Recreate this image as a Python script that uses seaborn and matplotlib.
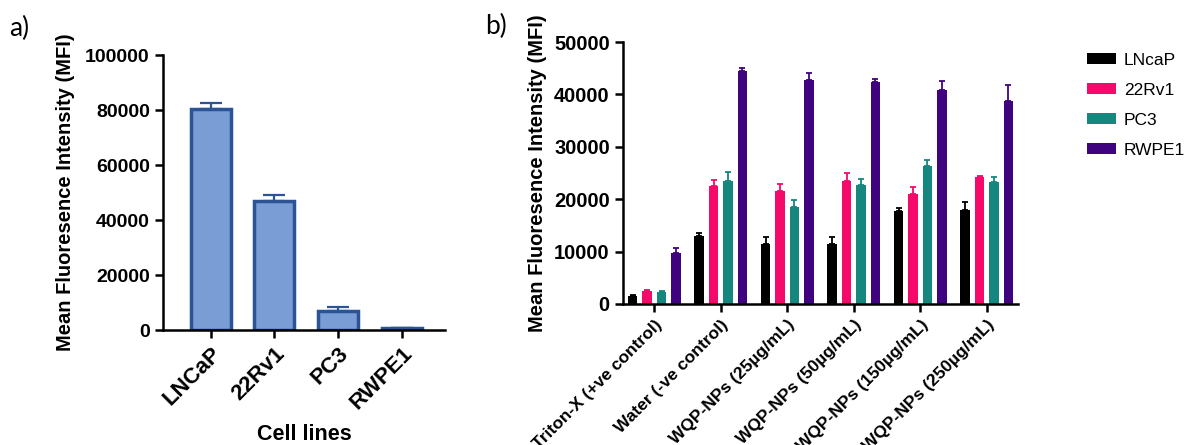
import numpy as np
import pandas as pd
import matplotlib
matplotlib.use("Agg")
import matplotlib.pyplot as plt
import seaborn as sns

# ---------------------------------------------------------------
# Data
# ---------------------------------------------------------------
cell_lines_a = ["LNCaP", "22Rv1", "PC3", "RWPE1"]
mfi_a = [80500, 46800, 7000, 700]
err_a = [2000, 2300, 1300, 200]

treatments = [
    "Triton-X (+ve control)",
    "Water (-ve control)",
    "WQP-NPs (25µg/mL)",
    "WQP-NPs (50µg/mL)",
    "WQP-NPs (150µg/mL)",
    "WQP-NPs (250µg/mL)",
]
lines_b = ["LNcaP", "22Rv1", "PC3", "RWPE1"]
mfi_lncap = [1600, 13000, 11400, 11500, 17800, 18000]
err_lncap = [150, 600, 1400, 1200, 600, 1400]
mfi_22rv1 = [2500, 22500, 21500, 23500, 21000, 24200]
err_22rv1 = [100, 1200, 1400, 1500, 1300, 300]
mfi_pc3 = [2300, 23400, 18500, 22700, 26400, 23200]
err_pc3 = [100, 1700, 1400, 1200, 1100, 1000]
mfi_rwpe1 = [9700, 44400, 42700, 42400, 40800, 38700]
err_rwpe1 = [900, 600, 1300, 600, 1700, 3000]

palette_b = ["#000000", "#F5096B", "#15877E", "#3F0380"]

# ---------------------------------------------------------------
# Style
# ---------------------------------------------------------------
sns.set_theme(style="ticks")
plt.rcParams["font.family"] = ["Liberation Sans", "DejaVu Sans"]
plt.rcParams["axes.linewidth"] = 1.8
plt.rcParams["xtick.major.width"] = 1.8
plt.rcParams["ytick.major.width"] = 1.8
plt.rcParams["xtick.major.size"] = 6
plt.rcParams["ytick.major.size"] = 6
plt.rcParams["xtick.color"] = "black"
plt.rcParams["ytick.color"] = "black"
plt.rcParams["axes.edgecolor"] = "black"
plt.rcParams["axes.labelcolor"] = "black"
plt.rcParams["text.color"] = "black"

fig = plt.figure(figsize=(11.84, 4.45), dpi=100)
ax_a = fig.add_axes([0.1377, 0.2584, 0.2381, 0.6180])
ax_b = fig.add_axes([0.5262, 0.3169, 0.3336, 0.5887])

# ---------------------------------------------------------------
# Panel a
# ---------------------------------------------------------------
df_a = pd.DataFrame({"cell": cell_lines_a, "mfi": mfi_a, "err": err_a})
edge_a = "#2C5393"
sns.barplot(data=df_a, x="cell", y="mfi", ax=ax_a, width=0.63,
            color="#7A9DD6", saturation=1, edgecolor=edge_a,
            linewidth=2.5, errorbar=None)
for bar, e in zip(ax_a.patches, df_a["err"]):
    xc = bar.get_x() + bar.get_width() / 2
    ax_a.errorbar(xc, bar.get_height(), yerr=[[0], [e]], fmt="none",
                  ecolor=edge_a, elinewidth=1.6, capsize=8, capthick=1.6,
                  zorder=1)

ax_a.set_xlim(-0.75, 3.68)
ax_a.set_ylim(0, 100000)
ax_a.set_yticks(np.arange(0, 100001, 20000))
sns.despine(ax=ax_a)
ax_a.tick_params(axis="y", labelsize=14)
ax_a.tick_params(axis="x", labelsize=16)
for lab in ax_a.get_yticklabels():
    lab.set_fontweight("bold")
plt.setp(ax_a.get_xticklabels(), rotation=45, ha="right",
         rotation_mode="anchor", fontweight="bold")
ax_a.set_xlabel("Cell lines", fontsize=15.5, fontweight="bold")
ax_a.xaxis.set_label_coords(0.5, -0.34)
ax_a.set_ylabel("Mean Fluoresence Intensity (MFI)", fontsize=14.5,
                fontweight="bold", labelpad=7)

# ---------------------------------------------------------------
# Panel b
# ---------------------------------------------------------------
df_b = pd.DataFrame({
    "treatment": treatments * 4,
    "line": np.repeat(lines_b, len(treatments)),
    "mfi": mfi_lncap + mfi_22rv1 + mfi_pc3 + mfi_rwpe1,
    "err": err_lncap + err_22rv1 + err_pc3 + err_rwpe1,
})
sns.barplot(data=df_b, x="treatment", y="mfi", hue="line", ax=ax_b,
            palette=palette_b, saturation=1, width=0.87, gap=0.33,
            errorbar=None, linewidth=0)
for cont, line, col in zip(ax_b.containers, lines_b, palette_b):
    errs = df_b.loc[df_b["line"] == line, "err"].values
    for bar, e in zip(cont, errs):
        xc = bar.get_x() + bar.get_width() / 2
        ax_b.errorbar(xc, bar.get_height(), yerr=[[0], [e]], fmt="none",
                      ecolor=col, elinewidth=1.3, capsize=2.5, capthick=1.3,
                      zorder=1)

ax_b.set_xlim(-0.47, 5.47)
ax_b.set_ylim(0, 50000)
ax_b.set_yticks(np.arange(0, 50001, 10000))
sns.despine(ax=ax_b)
ax_b.tick_params(axis="y", labelsize=14.5)
ax_b.tick_params(axis="x", labelsize=12.5)
for lab in ax_b.get_yticklabels():
    lab.set_fontweight("bold")
plt.setp(ax_b.get_xticklabels(), rotation=45, ha="right",
         rotation_mode="anchor", fontweight="bold")
ax_b.set_xlabel("")
ax_b.set_ylabel("Mean Fluoresence Intensity (MFI)", fontsize=14.5,
                fontweight="bold", labelpad=5)

sns.move_legend(ax_b, "upper left", bbox_to_anchor=(0.9105, 0.901),
                bbox_transform=fig.transFigure, frameon=False, title=None,
                fontsize=12.5, handlelength=1.7, handleheight=0.55,
                handletextpad=0.45, labelspacing=0.86, borderpad=0)

# panel letters
fig.text(0.008, 0.935, "a)", fontsize=19, family=["Lato", "DejaVu Sans"],
         va="center")
fig.text(0.410, 0.94, "b)", fontsize=19, family=["Lato", "DejaVu Sans"],
         va="center")

fig.savefig("out.png", dpi=100)
